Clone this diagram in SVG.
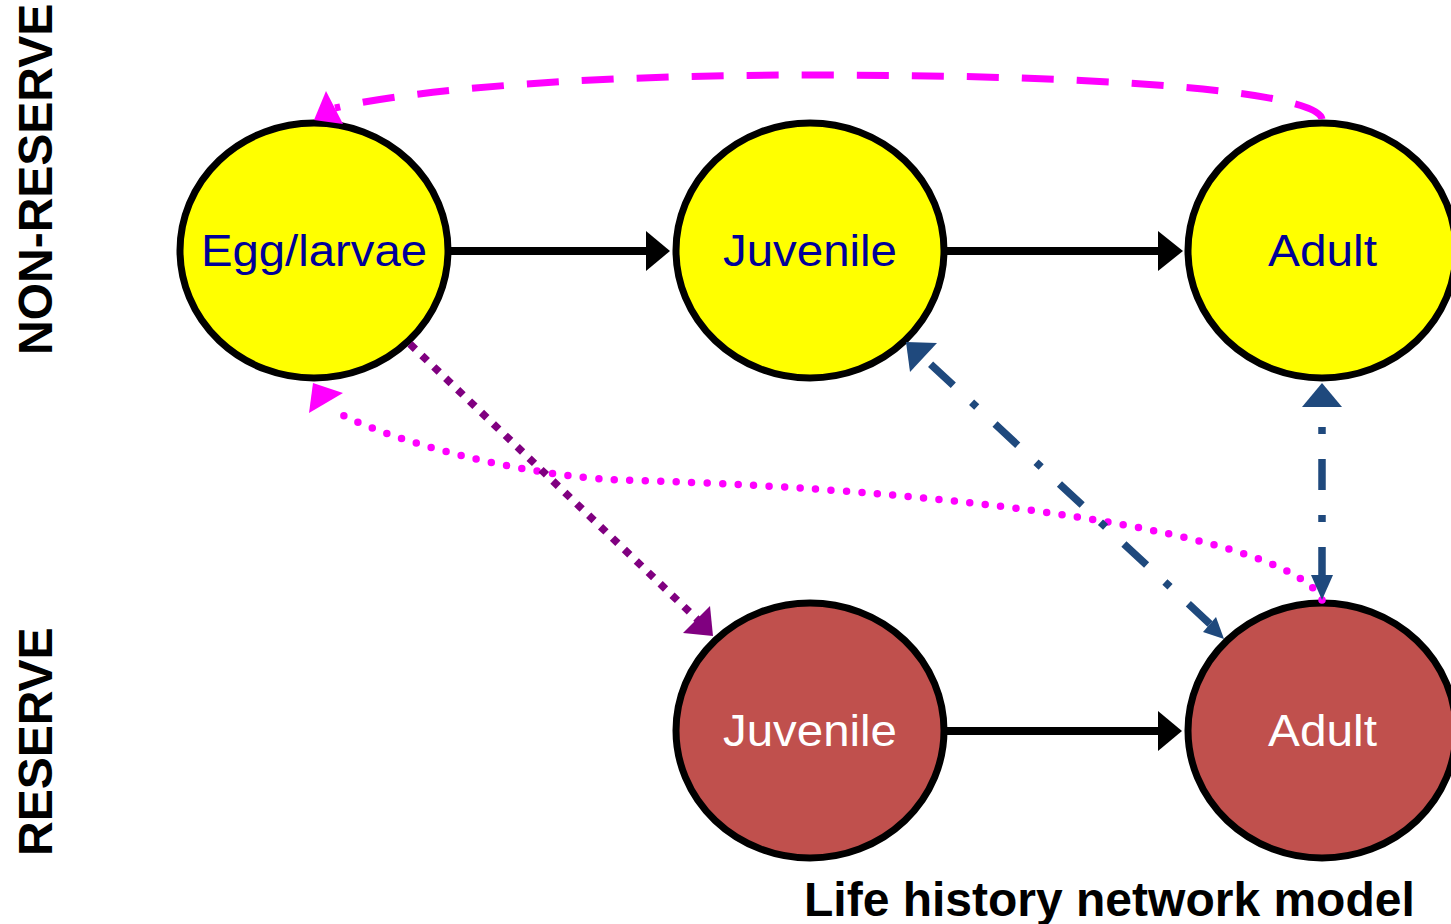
<svg xmlns="http://www.w3.org/2000/svg" width="1451" height="924" viewBox="0 0 1451 924">
  <style>
    .stage { stroke: #000; stroke-width: 7; }
    .nonres { fill: #FFFF00; }
    .res { fill: #C0504D; }
    .lbl { font-family: "Liberation Sans", Arial, sans-serif; font-size: 44px; text-anchor: middle; }
    .lbl-n { fill: #000099; }
    .lbl-r { fill: #FFFFFF; }
    .side { font-family: "Liberation Sans", Arial, sans-serif; font-size: 48px; font-weight: bold; fill: #000; }
    .flow { stroke: #000; stroke-width: 8; fill: none; }
    .head-k { fill: #000; }
    .spawn { stroke: #FF00FF; stroke-width: 7; fill: none; stroke-dasharray: 32 23; }
    .spawn-r { stroke: #FF00FF; stroke-width: 7.5; fill: none; stroke-dasharray: 0 15.5; stroke-linecap: round; }
    .head-m { fill: #FF00FF; }
    .settle { stroke: #800080; stroke-width: 7.5; fill: none; stroke-dasharray: 7.5 9; }
    .head-p { fill: #800080; }
    .move { stroke: #1F497D; stroke-width: 7.5; fill: none; stroke-dasharray: 31 25 7 25; }
    .head-b { fill: #1F497D; }
  </style>

  <!-- side labels -->
  <text class="side" transform="translate(52,355) rotate(-90)">NON-RESERVE</text>
  <text class="side" transform="translate(52,856) rotate(-90)">RESERVE</text>

  <!-- life stages -->
  <g id="egg-larvae">
    <ellipse class="stage nonres" cx="314" cy="250.5" rx="134" ry="127.5"/>
    <text class="lbl lbl-n" x="314" y="266" textLength="226" lengthAdjust="spacingAndGlyphs">Egg/larvae</text>
  </g>
  <g id="juvenile-nonreserve">
    <ellipse class="stage nonres" cx="810" cy="250.5" rx="134" ry="127.5"/>
    <text class="lbl lbl-n" x="810" y="266" textLength="174" lengthAdjust="spacingAndGlyphs">Juvenile</text>
  </g>
  <g id="adult-nonreserve">
    <ellipse class="stage nonres" cx="1322" cy="250.5" rx="134" ry="127.5"/>
    <text class="lbl lbl-n" x="1322.5" y="266" textLength="109" lengthAdjust="spacingAndGlyphs">Adult</text>
  </g>
  <g id="juvenile-reserve">
    <ellipse class="stage res" cx="810" cy="730.5" rx="134" ry="127.5"/>
    <text class="lbl lbl-r" x="810" y="746" textLength="174" lengthAdjust="spacingAndGlyphs">Juvenile</text>
  </g>
  <g id="adult-reserve">
    <ellipse class="stage res" cx="1322" cy="730.5" rx="134" ry="127.5"/>
    <text class="lbl lbl-r" x="1322.5" y="746" textLength="109" lengthAdjust="spacingAndGlyphs">Adult</text>
  </g>

  <g id="connectors">
    <!-- growth -->
    <path class="flow" d="M451,251 L647,251"/>
    <polygon class="head-k" points="646,231 670,251 646,271"/>
    <path class="flow" d="M947,251 L1159,251"/>
    <polygon class="head-k" points="1158,231 1183,251 1158,271"/>
    <path class="flow" d="M947,731 L1159,731"/>
    <polygon class="head-k" points="1158,711 1182,731 1158,751"/>

    <!-- spawning back to egg/larvae -->
    <path class="spawn" d="M1322,119 C1318,95 1150,75 810,75 C600,75 420,88 335,108"/>
    <polygon class="head-m" points="326,91 314,120 343,124"/>
    <path class="spawn-r" d="M1322,600 C1295,540 1000,490 620,480 C520,476 385,440 333,410"/>
    <polygon class="head-m" points="313,383 343,393 309,413"/>

    <!-- larval settlement into reserve -->
    <path class="settle" d="M410,344 L700,622"/>
    <polygon class="head-p" points="713,636 710,606 683,633"/>

    <!-- movement between habitats -->
    <path class="move" stroke-dashoffset="79" d="M924,358 L1210,624"/>
    <polygon class="head-b" points="906,342 937,343 910,372"/>
    <polygon class="head-b" points="1224,639 1203,632 1216,617"/>
    <path class="move" stroke-dashoffset="35" d="M1322,406 L1322,575"/>
    <polygon class="head-b" points="1322,383 1302,407 1342,407"/>
    <polygon class="head-b" points="1322,600 1311,575 1333,575"/>
  </g>

  <text class="side" x="804" y="916">Life history network model</text>
</svg>
